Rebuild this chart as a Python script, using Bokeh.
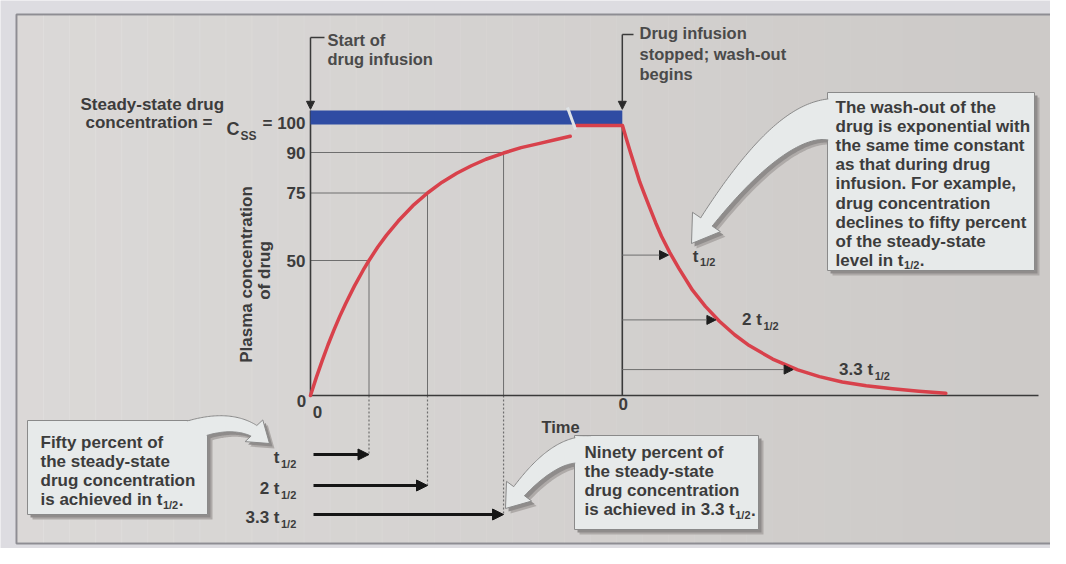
import numpy as np
from bokeh.plotting import figure
from bokeh.models import ColumnDataSource, Range1d, Arrow, NormalHead
from bokeh.core.properties import value
from bokeh.embed import file_html
from bokeh.resources import INLINE

# ---------------- data ----------------
# time in units of the infusion half-life (t1/2); concentration in % of Css
INF_T = [0.0, 0.1, 0.2, 0.3, 0.4, 0.5, 0.6, 0.75, 0.9, 1.0, 1.15, 1.3, 1.5, 1.75, 2.0,
         2.25, 2.5, 2.75, 3.0, 3.3, 3.6, 3.9, 4.2, 4.44]
INF_C = [0.0, 6.7, 12.9, 18.8, 24.2, 29.3, 34.0, 40.5, 46.4, 50.0, 55.0, 59.4, 64.6, 70.3, 75.0,
         79.0, 82.3, 85.1, 87.5, 89.8, 91.8, 93.3, 94.8, 96.0]
PLATEAU_T = [4.53, 5.33]
PLATEAU_C = [100.0, 100.0]
T_STOP = 5.33
WASH_T = [5.333, 5.40, 5.47, 5.55, 5.63, 5.71, 5.80, 5.90, 6.00, 6.14, 6.30, 6.53, 6.75, 6.99,
          7.25, 7.50, 7.90, 8.33, 8.70, 9.09, 9.50, 9.95, 10.40, 10.86]
WASH_C = [100.0, 95.0, 90.0, 84.5, 79.0, 74.5, 69.5, 64.0, 59.0, 53.0, 47.0, 39.0, 33.0, 27.5,
          22.5, 18.5, 13.5, 9.5, 7.0, 5.0, 3.6, 2.5, 1.6, 0.8]
CSS_BAR = [100.4, 105.6]

HALF_LIFE_MARKS = [1.0, 2.0, 3.3]
HALF_LIFE_LEVELS = [50.0, 75.0, 90.0]
HALF_LIFE_LABELS = ["t", "2 t", "3.3 t"]

WASH_MARK_T = [6.12, 6.93, 8.25]
WASH_MARK_C = [52.0, 28.0, 9.6]
WASH_MARK_LABELS = ["t", "2 t", "3.3 t"]

Y_TICKS = [50, 75, 90]
Y_TICK_LABELS = ["50", "75", "90"]
CSS_VALUE = 100
CSS_LABEL = "= 100"

# ---------------- layout helpers (page pixel -> data) ----------------
W, H = 1050, 548
X0, Y0 = 318.0, 403.0
SX, SY = 58.5, 2.7


def px2x(X):
    return (np.asarray(X, dtype=float) - X0) / SX


def px2y(Y):
    return (Y0 - np.asarray(Y, dtype=float)) / SY


PAPER = "#dddce1"
p = figure(width=W, height=H,
           x_range=Range1d(px2x(8), px2x(8 + W)),
           y_range=Range1d(px2y(8 + H), px2y(8)),
           x_axis_type=None, y_axis_type=None,
           toolbar_location=None, output_backend="svg",
           min_border=0, outline_line_color=None,
           background_fill_color=PAPER, border_fill_color=PAPER)

FONT = value("Liberation Sans")
TXT = "#3c3c3c"

BOLD_W = {'a': 556, 'b': 611, 'c': 556, 'd': 611, 'e': 556, 'f': 333, 'g': 611, 'h': 611,
          'i': 278, 'j': 278, 'k': 556, 'l': 278, 'm': 889, 'n': 611, 'o': 611, 'p': 611,
          'q': 611, 'r': 389, 's': 556, 't': 333, 'u': 611, 'v': 556, 'w': 778, 'x': 556,
          'y': 556, 'z': 500, ' ': 278, '.': 278, '=': 584, 'C': 722, 'S': 667, '-': 333,
          ',': 278, ';': 333, '/': 278}


def text_w(s, size):
    return sum(BOLD_W.get(ch, 556) for ch in s) * size / 1000.0


def txt(X, Y, texts, size=17, align="left", color=TXT, angle=0.0, style="bold"):
    p.text(x=list(px2x(X)), y=list(px2y(Y)), text=texts, text_font=FONT,
           text_font_size=f"{size}px", text_font_style=style, text_color=color,
           text_align=align, text_baseline="middle", angle=angle)


def sub_label(X, Y, main, sub, tail="", size=17, subsize=11, color=TXT):
    txt([X], [Y], [main], size, color=color)
    w = text_w(main, size)
    txt([X + w + 0.5], [Y + 5], [sub], subsize, color=color)
    if tail:
        txt([X + w + text_w(sub, subsize) + 1], [Y], [tail], size, color=color)


# ---------------- panel ----------------
p.quad(left=px2x(24), right=px2x(1075), top=px2y(22), bottom=px2y(551),
       fill_color="#cdcac8", line_color="#8e8d93", line_width=2)
edges = np.linspace(25, 1066, 41)
alphas = np.linspace(0.28, 0.0, 40)
p.quad(left=list(px2x(edges[:-1])), right=list(px2x(edges[1:] + 0.5)),
       top=px2y(23), bottom=px2y(550), fill_color="white", fill_alpha=list(alphas),
       line_color=None)

GRID = "#6e6e6e"
# guide lines for the rise
p.segment(x0=[0] * 3, y0=HALF_LIFE_LEVELS, x1=HALF_LIFE_MARKS, y1=HALF_LIFE_LEVELS,
          line_color=GRID, line_width=1)
p.segment(x0=HALF_LIFE_MARKS, y0=HALF_LIFE_LEVELS, x1=HALF_LIFE_MARKS, y1=[0] * 3,
          line_color=GRID, line_width=1)
BOTTOM_LEVELS = [462, 493, 522]
p.segment(x0=HALF_LIFE_MARKS, y0=[0] * 3, x1=HALF_LIFE_MARKS, y1=list(px2y(BOTTOM_LEVELS)),
          line_color=GRID, line_width=1.2, line_dash="2 2")

# axes
p.segment(x0=[0, 0, T_STOP], y0=[0, 0, 0], x1=[px2x(1046), 0, T_STOP], y1=[0, CSS_BAR[1], CSS_VALUE],
          line_color="#3a3a3a", line_width=1.6)

# wash-out guide arrows
wsrc = ColumnDataSource(dict(x0=[T_STOP] * 3, y0=WASH_MARK_C, x1=WASH_MARK_T, y1=WASH_MARK_C))
p.add_layout(Arrow(source=wsrc, x_start="x0", y_start="y0", x_end="x1", y_end="y1",
                   line_color=GRID, line_width=1,
                   end=NormalHead(size=9, fill_color="#1e1e1e", line_color="#1e1e1e")))

# steady-state bar
p.quad(left=[0], right=[T_STOP], bottom=[CSS_BAR[0]], top=[CSS_BAR[1]],
       fill_color="#2f4ca3", line_color=None)

RED = "#d8414b"
p.line(INF_T, INF_C, line_color=RED, line_width=3.5, line_join="round", line_cap="round")
p.line(PLATEAU_T, PLATEAU_C, line_color=RED, line_width=3.5)
p.line(WASH_T, WASH_C, line_color=RED, line_width=3.5, line_join="round", line_cap="round")
# break in the bar
p.segment(x0=px2x(575), y0=px2y(115), x1=px2x(583), y1=px2y(137),
          line_color="#dfe3e6", line_width=3)

# bracket arrows at top
p.multi_line(xs=[[0, px2x(332)], [T_STOP, px2x(641)]],
             ys=[[px2y(45), px2y(45)], [px2y(42), px2y(42)]], line_color="#3a3a3a", line_width=1.5)
bsrc = ColumnDataSource(dict(x0=[0, T_STOP], y0=list(px2y([45, 42])), x1=[0, T_STOP],
                             y1=[CSS_BAR[1] + 0.4] * 2))
p.add_layout(Arrow(source=bsrc, x_start="x0", y_start="y0", x_end="x1", y_end="y1",
                   line_color="#3a3a3a", line_width=1.5,
                   end=NormalHead(size=8, fill_color="#2a2a2a", line_color="#2a2a2a")))

# bottom arrows
asrc = ColumnDataSource(dict(x0=[px2x(321)] * 3, y0=list(px2y(BOTTOM_LEVELS)),
                             x1=HALF_LIFE_MARKS, y1=list(px2y(BOTTOM_LEVELS))))
p.add_layout(Arrow(source=asrc, x_start="x0", y_start="y0", x_end="x1", y_end="y1",
                   line_color="#151515", line_width=3,
                   end=NormalHead(size=11, fill_color="#151515", line_color="#151515")))


# ---------------- callouts ----------------
def arrow_poly(p0, p1, p2, w0, w1, L, Hh):
    p0, p1, p2 = (np.array(v, dtype=float) for v in (p0, p1, p2))
    ts = np.linspace(0, 1, 300)
    pts = ((1 - ts) ** 2)[:, None] * p0 + (2 * (1 - ts) * ts)[:, None] * p1 + (ts ** 2)[:, None] * p2
    d = np.hypot(pts[:, 0] - p2[0], pts[:, 1] - p2[1])
    idx = np.where(d >= L)[0][-1]
    shaft = pts[:idx + 1:4] if idx > 8 else pts[:idx + 1]
    shaft = np.vstack([shaft, pts[idx]])
    tan = np.gradient(shaft, axis=0)
    tan /= np.linalg.norm(tan, axis=1)[:, None]
    nrm = np.stack([-tan[:, 1], tan[:, 0]], axis=1)
    ws = np.linspace(w0, w1, len(shaft))[:, None]
    left = shaft + nrm * ws
    right = shaft - nrm * ws
    B = shaft[-1]
    dv = (p2 - B) / np.linalg.norm(p2 - B)
    nb = np.array([-dv[1], dv[0]])
    return np.vstack([left, [B + nb * Hh], [p2], [B - nb * Hh], right[::-1]])


def callout(box, arrow):
    l, t, r, b = box
    poly = arrow_poly(*arrow)
    for off, col in ((5, "#aeaaa8"), (3, "#8f8c8b")):
        p.quad(left=px2x(l + off), right=px2x(r + off), top=px2y(t + off), bottom=px2y(b + off),
               fill_color=col, line_color=None)
        p.patch(list(px2x(poly[:, 0] + off)), list(px2y(poly[:, 1] + off)), fill_color=col, line_color=None)
    fill = "#e7eaea"
    p.quad(left=px2x(l), right=px2x(r), top=px2y(t), bottom=px2y(b),
           fill_color=fill, line_color="#8a8a8a", line_width=1)
    p.patch(list(px2x(poly[:, 0])), list(px2y(poly[:, 1])), fill_color=fill,
            line_color="#8a8a8a", line_width=1)
    p.quad(left=px2x(l + 0.8), right=px2x(r - 0.8), top=px2y(t + 0.8), bottom=px2y(b - 0.8),
           fill_color=fill, line_color=None)


callout((35, 428, 215, 522), ((198, 438), (250, 420), (277, 451), 10, 6, 20, 14))
callout((582, 443, 766, 537), ((596, 458), (560, 452), (513, 516), 14, 7, 22, 16))
callout((835, 100, 1042, 278), ((846, 128), (790, 116), (699, 251), 22, 7, 26, 17))

# ---------------- texts ----------------
txt([48] * 3, [450, 469, 488], ["Fifty percent of", "the steady-state", "drug concentration"])
sub_label(48, 507, "is achieved in t", "1/2", ".")
txt([592] * 3, [460, 479, 498], ["Ninety percent of", "the steady-state", "drug concentration"])
sub_label(592, 517, "is achieved in 3.3 t", "1/2", ".")
right_lines = ["The wash-out of the", "drug is exponential with", "the same time constant",
               "as that during drug", "infusion. For example,", "drug concentration",
               "declines to fifty percent", "of the steady-state"]
txt([843] * 8, [115 + 19.1 * i for i in range(8)], right_lines)
sub_label(843, 115 + 19.1 * 8, "level in t", "1/2", ".")

TOP = "#4a4a4a"
txt([335, 335], [47, 66], ["Start of", "drug infusion"], 16.5, color=TOP)
txt([647, 647, 647], [40, 61, 81], ["Drug infusion", "stopped; wash-out", "begins"], 16.5, color=TOP)

txt([88, 93], [112, 130], ["Steady-state drug", "concentration ="], 17)
txt([234], [136], ["C"], 18)
txt([248], [143], ["SS"], 12)
p.text(x=[0], y=[CSS_VALUE], text=[CSS_LABEL], text_font=FONT, text_font_size="17px",
       text_font_style="bold", text_color=TXT, text_align="right", text_baseline="middle",
       x_offset=-5, y_offset=-2)
p.text(x=[0] * 3, y=Y_TICKS, text=Y_TICK_LABELS, text_font=FONT, text_font_size="17px",
       text_font_style="bold", text_color=TXT, text_align="right", text_baseline="middle",
       x_offset=-5)
# zero labels
p.text(x=[0, 0, T_STOP], y=[0, 0, 0], text=["0", "0", "0"], text_font=FONT, text_font_size="17px",
       text_font_style="bold", text_color=TXT, text_align="center", text_baseline="middle",
       x_offset=[-9, 7, 1], y_offset=[5, 16, 8])
txt([568], [434], ["Time"], 16.5, align="center")
txt([254], [282], ["Plasma concentration"], 17, align="center", angle=np.pi / 2)
txt([272], [278], ["of drug"], 17, align="center", angle=np.pi / 2)

# bottom half-life labels
for lab, lvl in zip(HALF_LIFE_LABELS, BOTTOM_LEVELS):
    txt([287], [lvl + 3], [lab], 17, align="right")
    txt([288.5], [lvl + 9], ["1/2"], 11)

# wash-out half-life labels
p.text(x=WASH_MARK_T, y=WASH_MARK_C, text=WASH_MARK_LABELS, text_font=FONT, text_font_size="17px",
       text_font_style="bold", text_color=TXT, text_align="right", text_baseline="middle",
       x_offset=[30, 46, 80], y_offset=[1, 0, 0])
p.text(x=WASH_MARK_T, y=WASH_MARK_C, text=["1/2"] * 3, text_font=FONT, text_font_size="11px",
       text_font_style="bold", text_color=TXT, text_align="left", text_baseline="middle",
       x_offset=[31.5, 47.5, 81.5], y_offset=[7, 6, 6])

open("out.html", "w").write(file_html(p, INLINE))
